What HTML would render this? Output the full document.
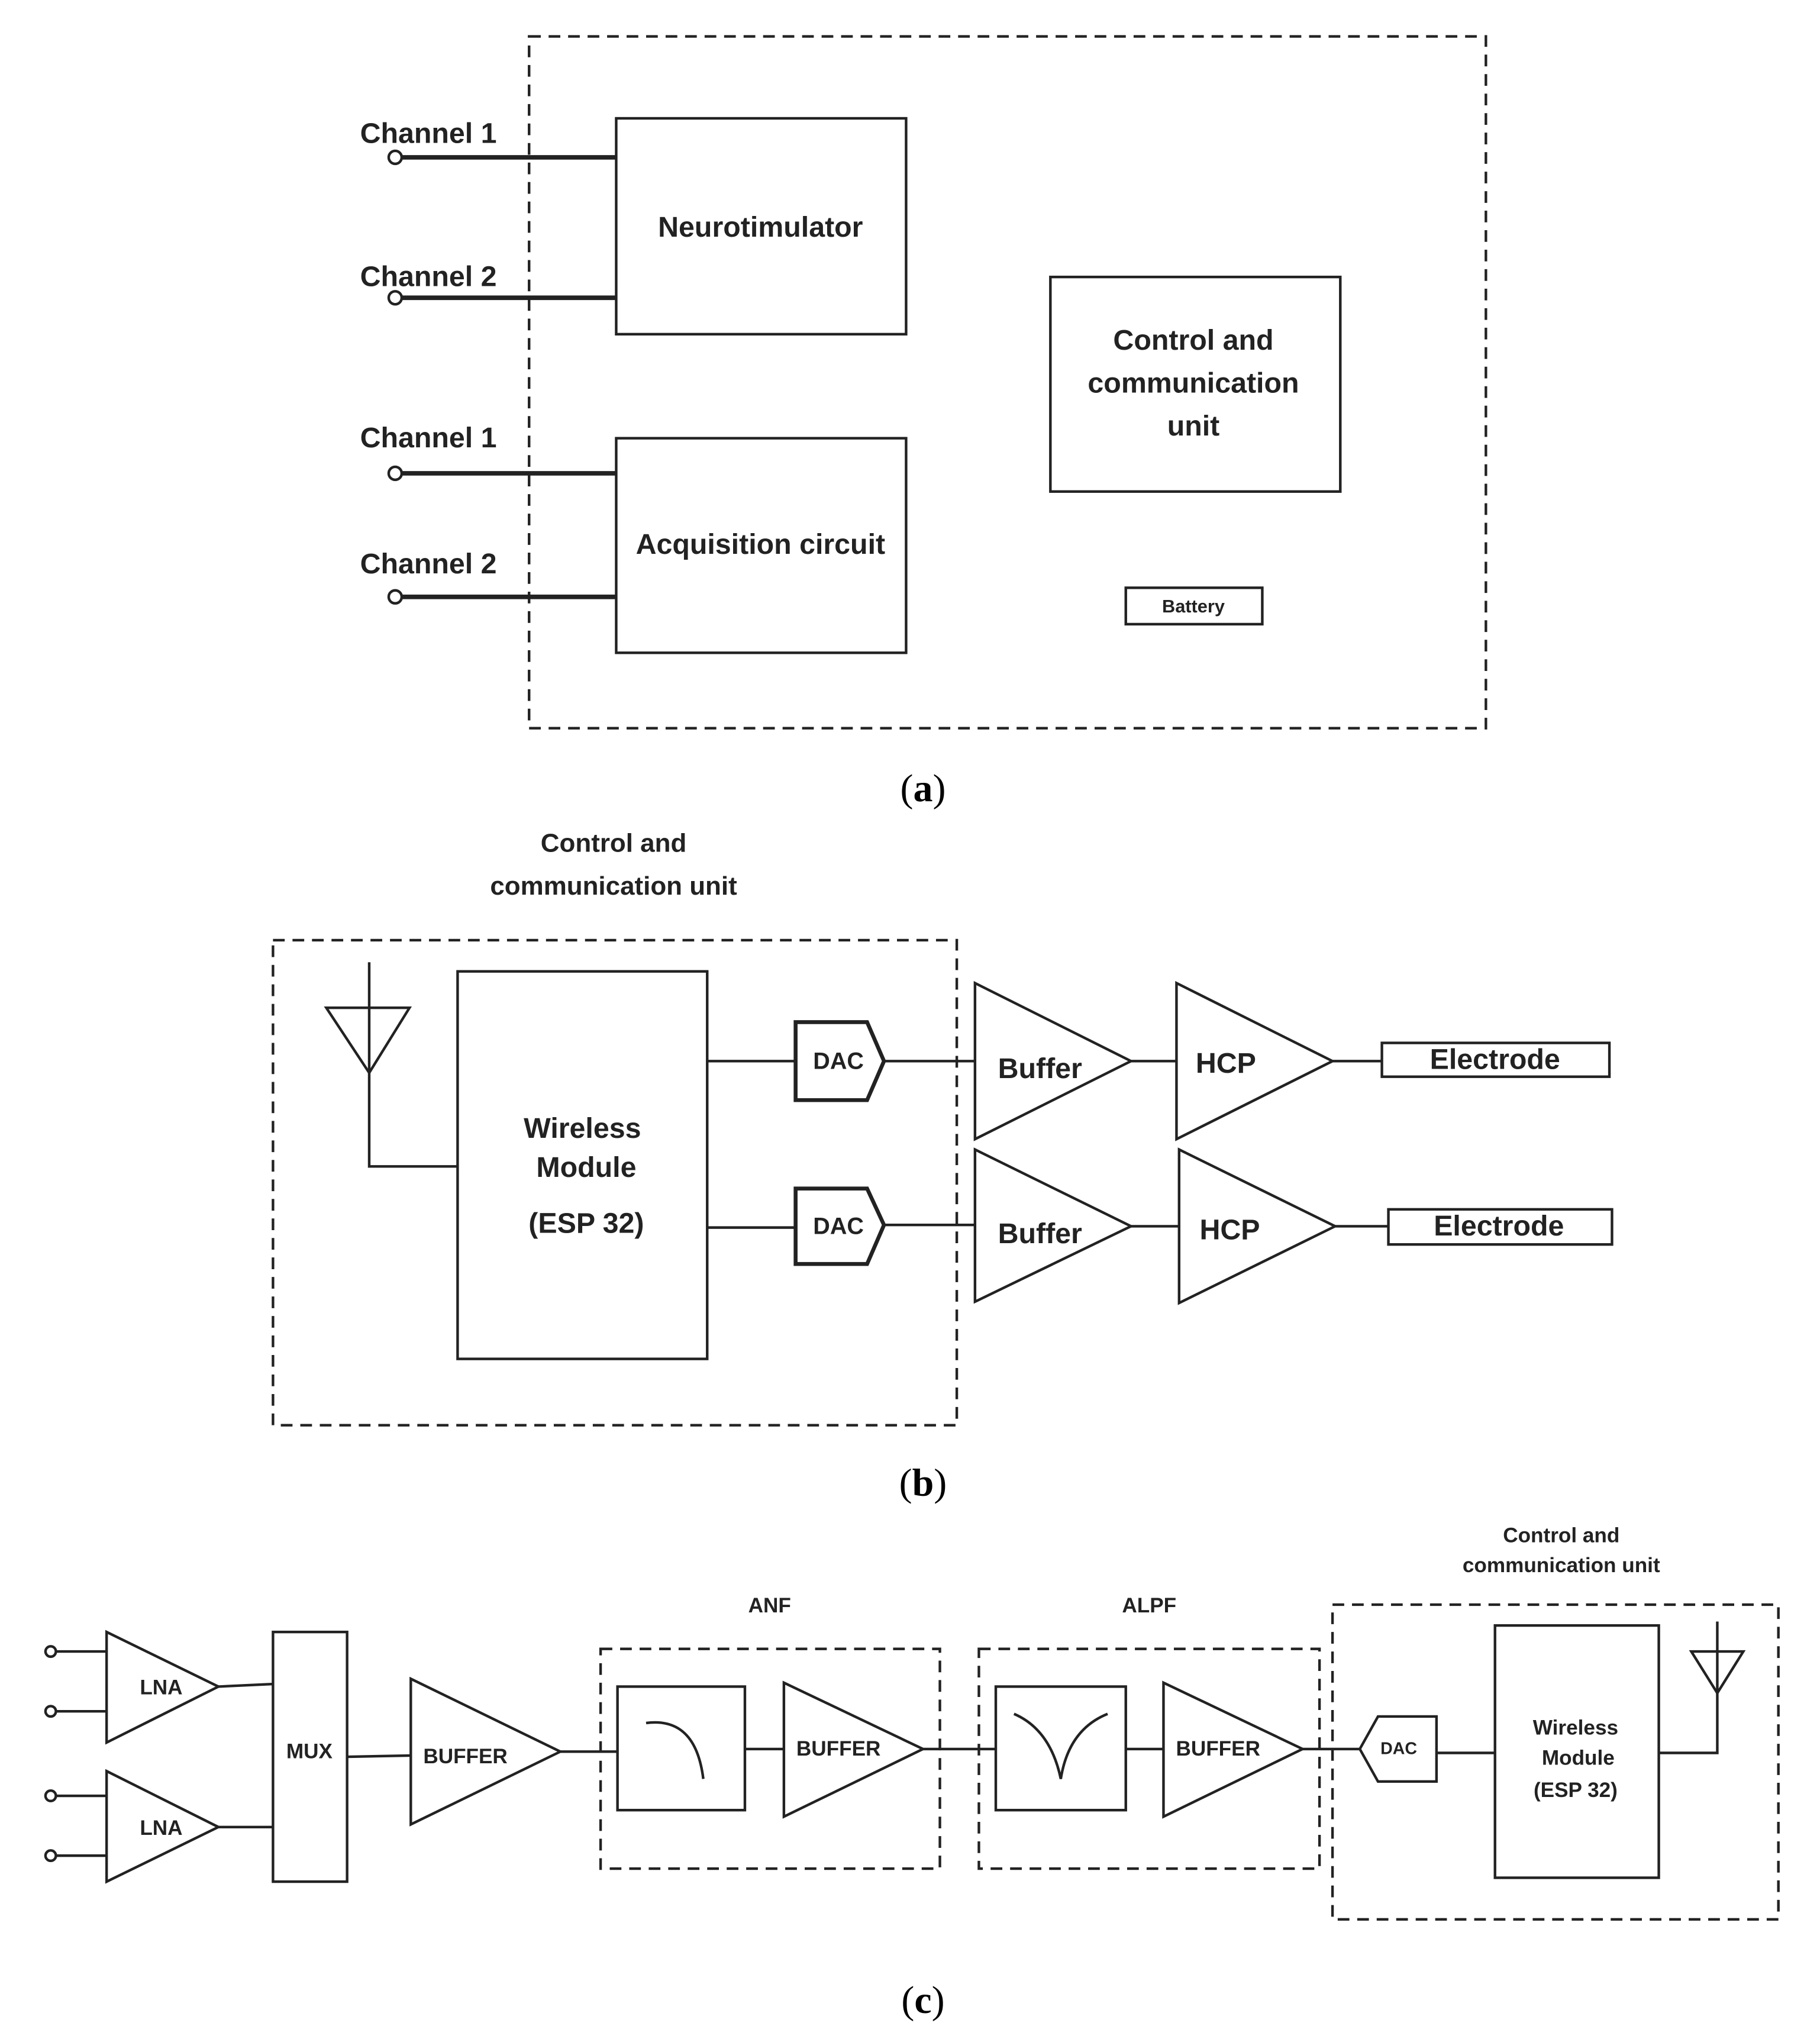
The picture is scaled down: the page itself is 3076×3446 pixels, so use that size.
<!DOCTYPE html>
<html><head><meta charset="utf-8"><style>
html,body{margin:0;padding:0;background:#fff;}
svg{display:block;}
text{font-family:"Liberation Sans",sans-serif;fill:#222;}
.t{font-size:22px;font-weight:bold;}
.s{font-size:16px;font-weight:bold;}
.cap{font-family:"Liberation Serif",serif;font-size:30px;fill:#000;}
</style></head><body>
<svg width="3076" height="3446" viewBox="0 0 1400 1568" preserveAspectRatio="none" xmlns="http://www.w3.org/2000/svg">
<g fill="none" stroke="#222" stroke-width="2">
<rect x="407" y="28" width="736" height="532" stroke-dasharray="9,6"/>
<rect x="474" y="91" width="223" height="166"/>
<rect x="474" y="337" width="223" height="165"/>
<rect x="808" y="213" width="223" height="165"/>
<rect x="866" y="452" width="105" height="28"/>
<g stroke-width="3.5">
<line x1="309" y1="121" x2="474" y2="121"/>
<line x1="309" y1="229" x2="474" y2="229"/>
<line x1="309" y1="364" x2="474" y2="364"/>
<line x1="309" y1="459" x2="474" y2="459"/>
</g>
<circle cx="304" cy="121" r="5"/><circle cx="304" cy="229" r="5"/>
<circle cx="304" cy="364" r="5"/><circle cx="304" cy="459" r="5"/>
<rect x="210" y="723" width="526" height="373" stroke-dasharray="9,6"/>
<rect x="352" y="747" width="192" height="298"/>
<polygon points="251,775 315,775 284,825"/>
<polyline points="284,740 284,897 352,897"/>
<line x1="544" y1="816" x2="612" y2="816"/>
<line x1="544" y1="944" x2="612" y2="944"/>
<polygon points="612,786 667,786 680,816 667,846 612,846" stroke-width="3"/>
<polygon points="612,914 667,914 680,942 667,972 612,972" stroke-width="3"/>
<line x1="680" y1="816" x2="750" y2="816"/>
<line x1="680" y1="942" x2="750" y2="942"/>
<polygon points="750,756 870,816 750,876"/>
<polygon points="905,756 1025,816 905,876"/>
<line x1="870" y1="816" x2="905" y2="816"/>
<line x1="1025" y1="816" x2="1063" y2="816"/>
<rect x="1063" y="802" width="175" height="26"/>
<polygon points="750,884 870,943 750,1001"/>
<polygon points="907,884 1027,943 907,1002"/>
<line x1="870" y1="943" x2="907" y2="943"/>
<line x1="1027" y1="943" x2="1068" y2="943"/>
<rect x="1068" y="930" width="172" height="27"/>
<circle cx="39" cy="1270" r="4"/><circle cx="39" cy="1316" r="4"/>
<circle cx="39" cy="1381" r="4"/><circle cx="39" cy="1427" r="4"/>
<line x1="43" y1="1270" x2="82" y2="1270"/><line x1="43" y1="1316" x2="82" y2="1316"/>
<line x1="43" y1="1381" x2="82" y2="1381"/><line x1="43" y1="1427" x2="82" y2="1427"/>
<polygon points="82,1255 168,1297 82,1340"/>
<polygon points="82,1362 168,1405 82,1447"/>
<line x1="168" y1="1297" x2="210" y2="1295"/>
<line x1="168" y1="1405" x2="210" y2="1405"/>
<rect x="210" y="1255" width="57" height="192"/>
<line x1="267" y1="1351" x2="316" y2="1350"/>
<polygon points="316,1291 431,1347 316,1403"/>
<line x1="431" y1="1347" x2="475" y2="1347"/>
<rect x="462" y="1268" width="261" height="169" stroke-dasharray="9,6"/>
<rect x="475" y="1297" width="98" height="95"/>
<path d="M497,1325 Q535,1320 541,1368"/>
<line x1="573" y1="1345" x2="603" y2="1345"/>
<polygon points="603,1294 710,1345 603,1397"/>
<line x1="710" y1="1345" x2="766" y2="1345"/>
<rect x="753" y="1268" width="262" height="169" stroke-dasharray="9,6"/>
<rect x="766" y="1297" width="100" height="95"/>
<path d="M780,1318 Q808,1330 816,1368 Q822,1330 852,1318"/>
<line x1="866" y1="1345" x2="895" y2="1345"/>
<polygon points="895,1294 1002,1345 895,1397"/>
<line x1="1002" y1="1345" x2="1046" y2="1345"/>
<rect x="1025" y="1234" width="343" height="242" stroke-dasharray="9,6"/>
<polygon points="1046,1345 1060,1320 1105,1320 1105,1370 1060,1370"/>
<line x1="1105" y1="1348" x2="1150" y2="1348"/>
<rect x="1150" y="1250" width="126" height="194"/>
<polygon points="1301,1270 1341,1270 1321,1302"/>
<polyline points="1321,1247 1321,1348 1276,1348"/>
</g>
<text class="t" x="277" y="110">Channel 1</text>
<text class="t" x="277" y="220">Channel 2</text>
<text class="t" x="277" y="344">Channel 1</text>
<text class="t" x="277" y="441">Channel 2</text>
<text class="t" x="585" y="182" text-anchor="middle">Neurotimulator</text>
<text class="t" x="585" y="426" text-anchor="middle">Acquisition circuit</text>
<text class="t" x="918" y="269" text-anchor="middle">Control and</text>
<text class="t" x="918" y="302" text-anchor="middle">communication</text>
<text class="t" x="918" y="335" text-anchor="middle">unit</text>
<text x="918" y="471" text-anchor="middle" style="font-size:14px;font-weight:bold">Battery</text>
<text class="cap" x="710" y="616" text-anchor="middle">(<tspan font-weight="bold">a</tspan>)</text>
<text class="t" x="472" y="655" text-anchor="middle" style="font-size:20px">Control and</text>
<text class="t" x="472" y="688" text-anchor="middle" style="font-size:20px">communication unit</text>
<text class="t" x="448" y="875" text-anchor="middle">Wireless</text>
<text class="t" x="451" y="905" text-anchor="middle">Module</text>
<text class="t" x="451" y="948" text-anchor="middle">(ESP 32)</text>
<text class="s" x="645" y="822" text-anchor="middle" style="font-size:18px">DAC</text>
<text class="s" x="645" y="949" text-anchor="middle" style="font-size:18px">DAC</text>
<text class="t" x="800" y="829" text-anchor="middle">Buffer</text>
<text class="t" x="943" y="825" text-anchor="middle">HCP</text>
<text class="t" x="1150" y="822" text-anchor="middle">Electrode</text>
<text class="t" x="800" y="956" text-anchor="middle">Buffer</text>
<text class="t" x="946" y="953" text-anchor="middle">HCP</text>
<text class="t" x="1153" y="950" text-anchor="middle">Electrode</text>
<text class="cap" x="710" y="1150" text-anchor="middle">(<tspan font-weight="bold">b</tspan>)</text>
<text class="s" x="124" y="1303" text-anchor="middle">LNA</text>
<text class="s" x="124" y="1411" text-anchor="middle">LNA</text>
<text class="s" x="238" y="1352" text-anchor="middle">MUX</text>
<text class="s" x="358" y="1356" text-anchor="middle">BUFFER</text>
<text class="s" x="645" y="1350" text-anchor="middle">BUFFER</text>
<text class="s" x="937" y="1350" text-anchor="middle">BUFFER</text>
<text class="s" x="592" y="1240" text-anchor="middle">ANF</text>
<text class="s" x="884" y="1240" text-anchor="middle">ALPF</text>
<text class="s" x="1201" y="1186" text-anchor="middle">Control and</text>
<text class="s" x="1201" y="1209" text-anchor="middle">communication unit</text>
<text class="s" x="1076" y="1349" text-anchor="middle" style="font-size:13px">DAC</text>
<text class="s" x="1212" y="1334" text-anchor="middle">Wireless</text>
<text class="s" x="1214" y="1357" text-anchor="middle">Module</text>
<text class="s" x="1212" y="1382" text-anchor="middle">(ESP 32)</text>
<text class="cap" x="710" y="1548" text-anchor="middle">(<tspan font-weight="bold">c</tspan>)</text>
</svg>
</body></html>
